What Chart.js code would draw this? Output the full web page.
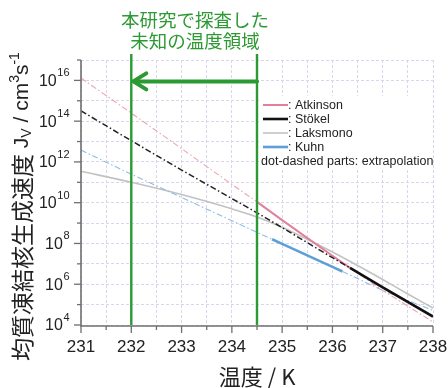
<!DOCTYPE html>
<html>
<head>
<meta charset="utf-8">
<script src="https://cdn.jsdelivr.net/npm/chart.js@4/dist/chart.umd.min.js"></script>
<style>
  html, body { margin: 0; padding: 0; background: #fff; }
  #wrap { position: relative; width: 448px; height: 388px; }
</style>
</head>
<body>
<div id="wrap"><canvas id="c"></canvas></div>
<script>
// Homogeneous ice nucleation rate J_V vs temperature, four datasets.
// Temperatures (K) and rates (cm^-3 s^-1) for each series.
const atkinsonT = [231, 232, 233, 234, 234.5, 235, 236, 236.35, 237, 238];
const atkinsonJ = [1.3e16, 2.5e14, 4.5e12, 7.9e10, 1.1e10, 1.4e9, 2.5e7, 6.3e6, 5.0e5, 1.4e4];

const stokelT = [231, 232, 233, 234, 234.5, 235, 236, 236.35, 237, 238];
const stokelJ = [3.2e14, 1.1e13, 4.0e11, 1.6e10, 3.2e9, 6.0e8, 2.0e7, 6.3e6, 7.1e5, 2.6e4];

const laksmonoT = [231, 232, 233, 234, 234.5, 235, 235.5, 236, 236.5, 237, 237.5, 238];
const laksmonoJ = [3.5e11, 1.0e11, 2.5e10, 5.0e9, 2.0e9, 6.3e8, 1.6e8, 3.8e7, 8.3e6, 1.7e6, 3.3e5, 6.8e4];

const kuhnT = [231, 232, 233, 234, 234.8, 235, 236, 236.2, 237, 238];
const kuhnJ = [3.8e12, 2.5e11, 1.8e10, 1.3e9, 1.6e8, 9.5e7, 7.1e6, 4.2e6, 5.0e5, 5.2e4];

// Temperature span actually measured by each study (outside: extrapolation)
const atkinsonMeasured = [234.5, 236.35];
const stokelMeasured = [236.35, 238];
const laksmonoMeasured = [231, 238];
const kuhnMeasured = [234.8, 236.2];

// Axis ticks
const xTickValues = [231, 231.5, 232, 232.5, 233, 233.5, 234, 234.5, 235, 235.5, 236, 236.5, 237, 237.5, 238];
const yExponents = [4, 5, 6, 7, 8, 9, 10, 11, 12, 13, 14, 15, 16, 17];

// Studied (previously unexplored) temperature window
const studyWindow = [232, 234.5];
const studyLabel = ['本研究で探査した', '未知の温度領域'];

const legendNames = ['Atkinson', 'Stökel', 'Laksmono', 'Kuhn'];
const legendNote = 'dot-dashed parts: extrapolation';

const SANS = '"Liberation Sans", Arial, Helvetica, sans-serif';
const CJK = '"Noto Sans CJK JP", "Noto Sans", sans-serif';
const GREEN = '#2c9a32';
const DASHDOT = [6, 2.5, 1.5, 2.5];

const styles = {
  Atkinson: { solid: '#e47f9b', dash: '#eba2b4', w: 2, dw: 1.1 },
  Stökel:   { solid: '#111111', dash: '#222222', w: 2.6, dw: 1.5 },
  Laksmono: { solid: '#c2c2c2', dash: '#c2c2c2', w: 1.6, dw: 1.2 },
  Kuhn:     { solid: '#5e9fd8', dash: '#8fbde6', w: 2.6, dw: 1.1 }
};

function pts(T, J) { return T.map((t, i) => ({ x: t, y: J[i] })); }

function series(name, T, J, range, extra) {
  const s = styles[name];
  const inRange = ctx => ctx.p0.parsed.x >= range[0] - 1e-6 && ctx.p1.parsed.x <= range[1] + 1e-6;
  return Object.assign({
    label: name,
    data: pts(T, J),
    borderColor: s.solid,
    borderWidth: s.w,
    pointRadius: 0,
    fill: false,
    tension: 0,
    segment: {
      borderDash: ctx => inRange(ctx) ? [] : DASHDOT,
      borderColor: ctx => inRange(ctx) ? s.solid : s.dash,
      borderWidth: ctx => inRange(ctx) ? s.w : s.dw
    }
  }, extra || {});
}

const datasets = [
  series('Stökel', stokelT, stokelJ, stokelMeasured),
  series('Atkinson', atkinsonT, atkinsonJ, atkinsonMeasured),
  series('Kuhn', kuhnT, kuhnJ, kuhnMeasured),
  series('Laksmono', laksmonoT, laksmonoJ, laksmonoMeasured, { cubicInterpolationMode: 'monotone' })
];

function line(ctx, x1, y1, x2, y2) {
  ctx.beginPath(); ctx.moveTo(x1, y1); ctx.lineTo(x2, y2); ctx.stroke();
}

const decor = {
  id: 'decor',
  afterDatasetsDraw(chart) {
    const ctx = chart.ctx;
    const a = chart.chartArea;
    const xs = chart.scales.x, ys = chart.scales.y;
    ctx.save();

    // Legend panel
    ctx.fillStyle = '#ffffff';
    ctx.fillRect(259, 96, a.right - 259, 74);
    const rowY = [105, 119, 133, 147];
    legendNames.forEach((n, i) => {
      const s = styles[n];
      ctx.strokeStyle = s.solid;
      ctx.lineWidth = s.w;
      ctx.setLineDash([]);
      line(ctx, 263, rowY[i], 288, rowY[i]);
      ctx.fillStyle = '#222';
      ctx.font = '12.5px ' + SANS;
      ctx.textAlign = 'left';
      ctx.textBaseline = 'middle';
      ctx.fillText(': ' + n, 288, rowY[i] + 0.5);
    });
    ctx.fillText(legendNote, 261, 162);

    // Study window: vertical bounds and arrow
    const xl = xs.getPixelForValue(studyWindow[0]);
    const xr = xs.getPixelForValue(studyWindow[1]);
    ctx.strokeStyle = GREEN;
    ctx.lineWidth = 2.4;
    line(ctx, xl, 54, xl, a.bottom);
    line(ctx, xr, 54, xr, a.bottom);
    const ay = ys.getPixelForValue(1e16) + 1;
    ctx.lineWidth = 4;
    ctx.lineCap = 'round';
    ctx.lineJoin = 'round';
    line(ctx, xr, ay, xl + 3, ay);
    ctx.beginPath();
    ctx.moveTo(xl + 15, ay - 8);
    ctx.lineTo(xl + 2, ay);
    ctx.lineTo(xl + 15, ay + 8);
    ctx.stroke();
    ctx.lineCap = 'butt';

    ctx.fillStyle = GREEN;
    ctx.font = '18.5px ' + CJK;
    ctx.textAlign = 'center';
    ctx.textBaseline = 'middle';
    ctx.fillText(studyLabel[0], 195, 20);
    ctx.fillText(studyLabel[1], 195, 41);

    // Axis lines
    ctx.strokeStyle = '#6f6f6f';
    ctx.lineWidth = 1.6;
    line(ctx, a.left, a.top, a.left, a.bottom + 1);
    line(ctx, a.left - 0.8, a.bottom + 1, a.right, a.bottom + 1);

    // Tick marks
    ctx.lineWidth = 1.3;
    xTickValues.forEach(v => {
      const x = xs.getPixelForValue(v);
      const len = Number.isInteger(v) ? 7 : 4;
      line(ctx, x, a.bottom + 1, x, a.bottom + 1 + len);
    });
    yExponents.forEach(e => {
      const y = ys.getPixelForValue(Math.pow(10, e));
      const len = e % 2 === 0 ? 7 : 4;
      line(ctx, a.left, y, a.left - len, y);
    });

    // Y tick labels 10^n
    ctx.fillStyle = '#222';
    ctx.textBaseline = 'middle';
    ctx.textAlign = 'left';
    yExponents.filter(e => e % 2 === 0).forEach(e => {
      const y = ys.getPixelForValue(Math.pow(10, e));
      const sup = String(e);
      ctx.font = '11px ' + SANS;
      const sw = ctx.measureText(sup).width;
      ctx.font = '16px ' + SANS;
      const bw = ctx.measureText('10').width;
      const x0 = 69 - sw - bw;
      ctx.fillText('10', x0, y + 1);
      ctx.font = '11px ' + SANS;
      ctx.fillText(sup, x0 + bw + 0.5, y - 7);
    });

    // Y axis title (rotated, reads bottom to top)
    ctx.translate(21, 361);
    ctx.rotate(-Math.PI / 2);
    const parts = [
      { t: '均質凍結核生成速度', f: '23px ' + CJK, dy: 0 },
      { t: ' J', f: '21px ' + SANS, dy: 0 },
      { t: 'V', f: '14px ' + SANS, dy: 5 },
      { t: ' / ', f: '21px ' + SANS, dy: 0 },
      { t: 'cm', f: '21px ' + SANS, dy: 0 },
      { t: '3', f: '14px ' + SANS, dy: -7 },
      { t: 's', f: '21px ' + SANS, dy: 0 },
      { t: '-1', f: '14px ' + SANS, dy: -7 }
    ];
    let px = 0;
    ctx.fillStyle = '#222';
    ctx.textAlign = 'left';
    parts.forEach(p => {
      ctx.font = p.f;
      ctx.fillText(p.t, px, p.dy + 1);
      px += ctx.measureText(p.t).width;
    });
    ctx.setTransform(1, 0, 0, 1, 0, 0);

    // X axis title
    ctx.font = '22px ' + CJK;
    ctx.textAlign = 'center';
    ctx.textBaseline = 'middle';
    ctx.fillStyle = '#222';
    ctx.fillText('温度 / K', (a.left + a.right) / 2, 377);

    ctx.restore();
  }
};

new Chart(document.getElementById('c'), {
  type: 'line',
  data: { datasets },
  options: {
    responsive: true,
    maintainAspectRatio: false,
    animation: false,
    layout: { padding: { top: 60, right: 15, left: 0, bottom: 0 } },
    plugins: { legend: { display: false }, tooltip: { enabled: false } },
    scales: {
      x: {
        type: 'linear',
        min: 231,
        max: 238,
        afterBuildTicks: s => { s.ticks = xTickValues.map(v => ({ value: v })); },
        afterFit: s => { s.height = 63; s.paddingLeft = 0; s.paddingRight = 0; },
        grid: { color: '#d9d5ea', lineWidth: 1, drawTicks: false },
        border: { display: false, dash: [3, 2] },
        ticks: {
          padding: 12,
          color: '#222',
          font: { family: SANS, size: 17 },
          maxRotation: 0,
          autoSkip: false,
          callback: v => Number.isInteger(v) ? String(v) : ''
        }
      },
      y: {
        type: 'logarithmic',
        min: 1e4,
        max: 1e17,
        afterBuildTicks: s => { s.ticks = yExponents.map(e => ({ value: Math.pow(10, e) })); },
        afterFit: s => { s.width = 81; s.paddingTop = 0; s.paddingBottom = 0; },
        grid: { color: '#d9d5ea', lineWidth: 1, drawTicks: false },
        border: { display: false, dash: [3, 2] },
        ticks: { display: false }
      }
    }
  },
  plugins: [decor]
});
</script>
</body>
</html>
